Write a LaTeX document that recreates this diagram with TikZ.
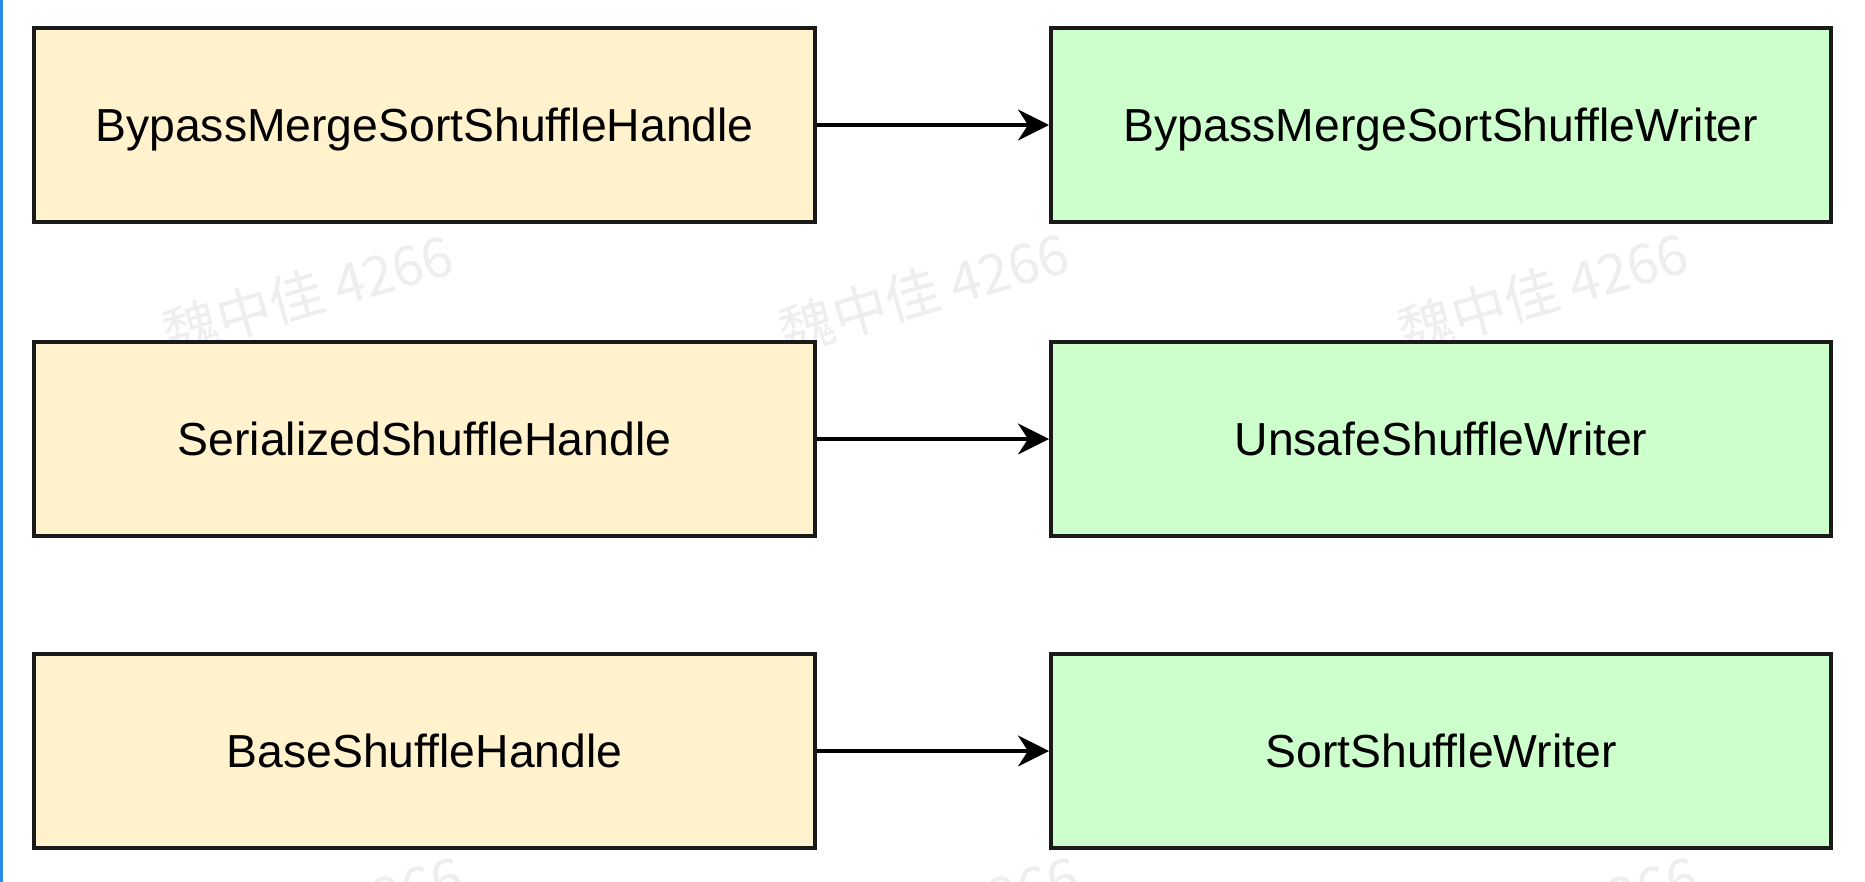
\documentclass[tikz,border=0pt]{standalone}
\usepackage{fontspec}
\setmainfont{Liberation Sans}
\newfontfamily\cjkwm{Noto Sans CJK SC}
\usetikzlibrary{arrows.meta}
\definecolor{handlefill}{HTML}{FFF2CC}
\definecolor{writerfill}{HTML}{CCFFCC}
\definecolor{boxline}{HTML}{1A1A1A}
\definecolor{wmgray}{HTML}{EEEEEE}
\definecolor{edgeblue}{HTML}{2A8AE8}
\tikzset{
  boxbase/.style={draw=boxline, line width=4bp, inner sep=0pt, minimum height=194bp,
    text=black, font=\fontsize{46.5}{50}\selectfont, text height=33bp, text depth=0bp},
  handlebox/.style={boxbase, fill=handlefill, minimum width=781bp},
  writerbox/.style={boxbase, fill=writerfill, minimum width=780bp},
  conn/.style={draw=black, line width=3.5bp, -{Stealth[length=31bp, width=31bp, inset=10bp]}},
  wmark/.style={text=wmgray, rotate=16, inner sep=0pt, font=\cjkwm\fontsize{55}{60}\selectfont}
}
\begin{document}
\begin{tikzpicture}[x=1bp, y=-1bp]
  \useasboundingbox (0,0) rectangle (1865,882);
  \fill[white] (0,0) rectangle (1865,882);
  \fill[edgeblue] (0,0) rectangle (2.5,882);
  % watermarks
  \begin{scope}
    \clip (0,0) rectangle (1865,882);
    \node[wmark] (wm1) at (308,294) {魏中佳 4266};
    \node[wmark] (wm2) at (924,292) {魏中佳 4266};
    \node[wmark] (wm3) at (1543,292) {魏中佳 4266};
    \node[wmark] (wm4) at (318,915) {魏中佳 4266};
    \node[wmark] (wm5) at (934,915) {魏中佳 4266};
    \node[wmark] (wm6) at (1553,915) {魏中佳 4266};
  \end{scope}
  % boxes
  \node[handlebox] (h1) at (424.5,125) {BypassMergeSortShuffleHandle};
  \node[handlebox] (h2) at (424.5,439) {SerializedShuffleHandle};
  \node[handlebox] (h3) at (424.5,751) {BaseShuffleHandle};
  \node[writerbox] (w1) at (1441,125) {BypassMergeSortShuffleWriter};
  \node[writerbox] (w2) at (1441,439) {UnsafeShuffleWriter};
  \node[writerbox] (w3) at (1441,751) {SortShuffleWriter};
  % connectors
  \draw[conn] (h1) -- (w1);
  \draw[conn] (h2) -- (w2);
  \draw[conn] (h3) -- (w3);
\end{tikzpicture}
\end{document}
